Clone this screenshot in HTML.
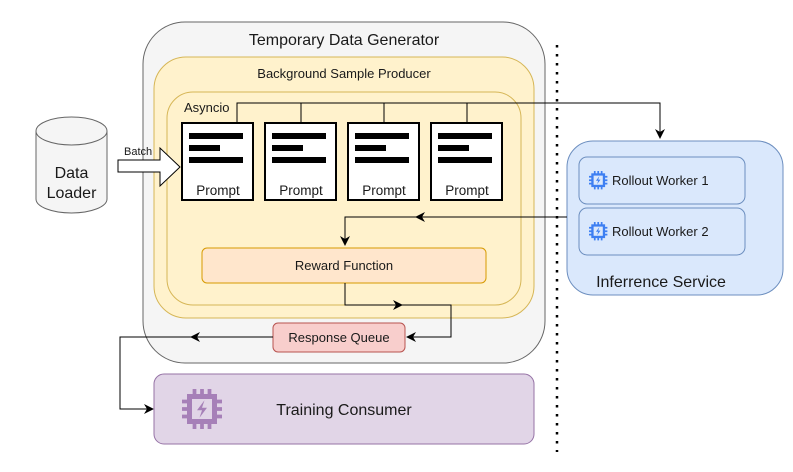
<!DOCTYPE html>
<html><head><meta charset="utf-8"><style>html,body{margin:0;padding:0;background:#fff}svg{display:block}text{font-family:"Liberation Sans",Arial,sans-serif;fill:#1a1a1a}</style></head><body>
<svg width="793" height="472" viewBox="0 0 793 472" xmlns="http://www.w3.org/2000/svg">
<defs>
<marker id="a" markerWidth="10" markerHeight="10" refX="9" refY="5" orient="auto" markerUnits="userSpaceOnUse"><path d="M0,0 L10,5 L0,10 L3,5 Z" fill="#000"/></marker>
<g id="chip"><rect x="3" y="3" width="10" height="10" fill="none" stroke-width="2"/><path d="M5,0v3M8,0v3M11,0v3M5,13v3M8,13v3M11,13v3M0,5h3M0,8h3M0,11h3M13,5h3M13,8h3M13,11h3" stroke-width="1.5"/><path d="M9,4.5 L6,8.5 L8,8.5 L7,11.5 L10,7.5 L8,7.5 Z" stroke="none"/></g>
</defs>
<rect x="143" y="22" width="402" height="341" rx="42" fill="#f5f5f5" stroke="#666"/>
<text x="344" y="45" font-size="16" text-anchor="middle">Temporary Data Generator</text>
<rect x="154" y="57" width="380" height="261" rx="32" fill="#fff2cc" stroke="#d6b656"/>
<text x="344" y="78" font-size="13" text-anchor="middle">Background Sample Producer</text>
<rect x="167" y="92" width="354" height="213" rx="26" fill="#fff2cc" stroke="#d6b656"/>
<text x="184" y="112" font-size="13">Asyncio</text>
<path d="M237,123V103H660V138" fill="none" stroke="#000" marker-end="url(#a)"/>
<path d="M301,103V123M384,103V123M467,103V123" stroke="#000"/>
<g stroke="#000" stroke-width="2" fill="#fff">
<rect x="182" y="123" width="71" height="77"/><rect x="265" y="123" width="71" height="77"/><rect x="348" y="123" width="71" height="77"/><rect x="431" y="123" width="71" height="77"/>
</g>
<g fill="#000">
<rect x="189" y="133" width="54" height="6"/><rect x="189" y="145" width="31" height="6"/><rect x="189" y="157" width="54" height="6"/>
<rect x="272" y="133" width="54" height="6"/><rect x="272" y="145" width="31" height="6"/><rect x="272" y="157" width="54" height="6"/>
<rect x="355" y="133" width="54" height="6"/><rect x="355" y="145" width="31" height="6"/><rect x="355" y="157" width="54" height="6"/>
<rect x="438" y="133" width="54" height="6"/><rect x="438" y="145" width="31" height="6"/><rect x="438" y="157" width="54" height="6"/>
</g>
<g font-size="13.5" text-anchor="middle"><text x="218" y="195">Prompt</text><text x="301" y="195">Prompt</text><text x="384" y="195">Prompt</text><text x="467" y="195">Prompt</text></g>
<path d="M36,131 V199 A35.5,14 0 0 0 107,199 V131" fill="#f5f5f5" stroke="#666"/>
<ellipse cx="71.5" cy="131" rx="35.5" ry="14" fill="#f5f5f5" stroke="#666"/>
<text x="71.5" y="178" font-size="16" text-anchor="middle">Data</text>
<text x="71.5" y="198" font-size="16" text-anchor="middle">Loader</text>
<path d="M118,160 H160 V148 L180,167 L160,186 V172 H118 Z" fill="#fff" stroke="#000"/>
<text x="124" y="155" font-size="11">Batch</text>
<rect x="567" y="141" width="216" height="154" rx="26" fill="#dae8fc" stroke="#6c8ebf"/>
<rect x="579" y="157" width="166" height="47" rx="8" fill="#dae8fc" stroke="#6c8ebf"/>
<rect x="579" y="208" width="166" height="47" rx="8" fill="#dae8fc" stroke="#6c8ebf"/>
<use href="#chip" transform="translate(589,171) scale(1.15)" stroke="#3d7ff2" fill="#3d7ff2"/>
<use href="#chip" transform="translate(589,222) scale(1.15)" stroke="#3d7ff2" fill="#3d7ff2"/>
<text x="612" y="185" font-size="13">Rollout Worker 1</text>
<text x="612" y="236" font-size="13">Rollout Worker 2</text>
<text x="661" y="287" font-size="16" text-anchor="middle">Inferrence Service</text>
<line x1="557" y1="45" x2="557" y2="452" stroke="#000" stroke-width="2.5" stroke-dasharray="2.5,6.5"/>
<path d="M567,217H345V245" fill="none" stroke="#000" marker-end="url(#a)"/>
<path d="M425,212 L415,217 L425,222 L422,217 Z" fill="#000"/>
<rect x="202" y="248" width="284" height="35" rx="5" fill="#ffe6cc" stroke="#d79b00"/>
<text x="344" y="270" font-size="13" text-anchor="middle">Reward Function</text>
<path d="M345,283V305H451V337H407" fill="none" stroke="#000" marker-end="url(#a)"/>
<path d="M393,300 L403,305 L393,310 L396,305 Z" fill="#000"/>
<rect x="273" y="323" width="132" height="29" rx="5" fill="#f8cecc" stroke="#b85450"/>
<text x="339" y="342" font-size="13" text-anchor="middle">Response Queue</text>
<path d="M273,337H120V409H153" fill="none" stroke="#000" marker-end="url(#a)"/>
<path d="M200,332 L190,337 L200,342 L197,337 Z" fill="#000"/>
<rect x="154" y="374" width="380" height="70" rx="10" fill="#e1d5e7" stroke="#9673a6"/>
<use href="#chip" transform="translate(182,389) scale(2.5)" stroke="#a680b8" fill="#a680b8"/>
<text x="344" y="415" font-size="16" text-anchor="middle">Training Consumer</text>
</svg>
</body></html>
